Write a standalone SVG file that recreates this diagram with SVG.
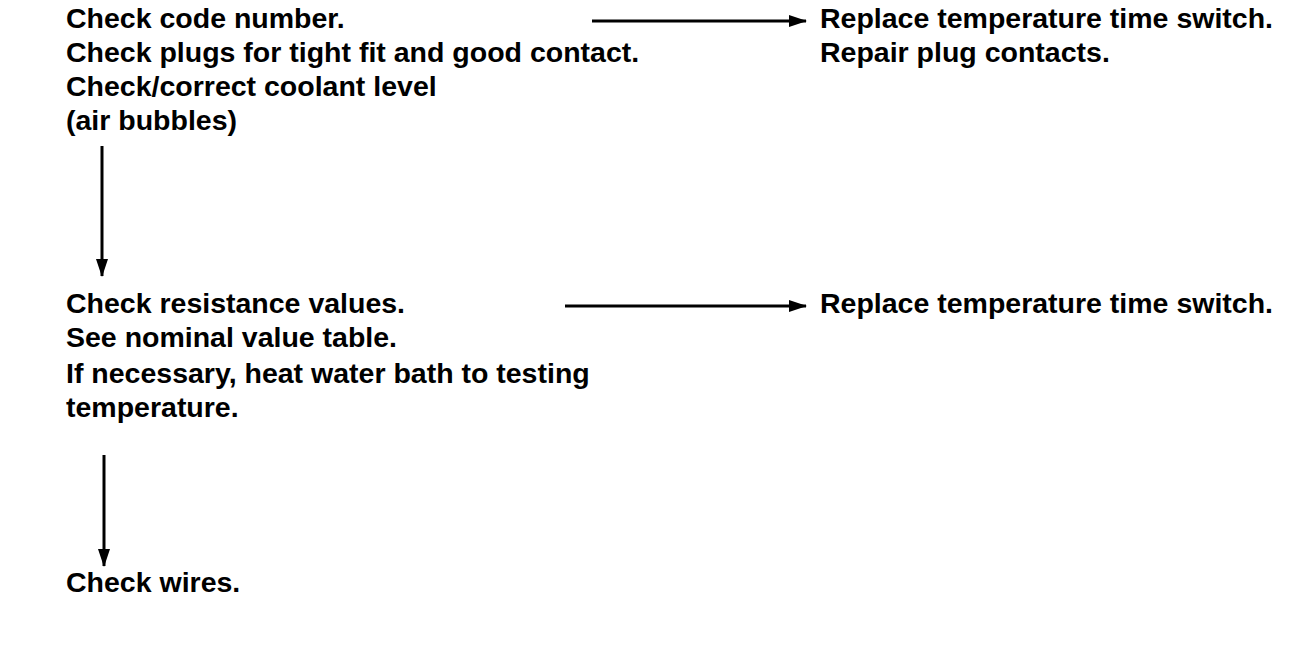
<svg xmlns="http://www.w3.org/2000/svg" width="1312" height="656" viewBox="0 0 1312 656">
<style>
text{font-family:"Liberation Sans",Arial,sans-serif;font-weight:bold;font-size:28.5px;fill:#000}
.c{stroke:#000;stroke-width:3;fill:none}
</style>
<defs>
<marker id="ah" markerWidth="18" markerHeight="12" refX="17" refY="6" orient="auto" markerUnits="userSpaceOnUse">
<path d="M0,0 L18,6 L0,12 Z" fill="#000"/>
</marker>
</defs>
<rect width="1312" height="656" fill="#fff"/>
<g id="n1">
<text x="66" y="28">Check code number.</text>
<text x="66" y="62">Check plugs for tight fit and good contact.</text>
<text x="66" y="96">Check/correct coolant level</text>
<text x="66" y="130">(air bubbles)</text>
</g>
<g id="n2">
<text x="820" y="28">Replace temperature time switch.</text>
<text x="820" y="62">Repair plug contacts.</text>
</g>
<g id="n3">
<text x="66" y="313">Check resistance values.</text>
<text x="66" y="347">See nominal value table.</text>
<text x="66" y="383">If necessary, heat water bath to testing</text>
<text x="66" y="417">temperature.</text>
</g>
<g id="n4">
<text x="820" y="313">Replace temperature time switch.</text>
</g>
<g id="n5">
<text x="66" y="592">Check wires.</text>
</g>
<g id="connectors">
<line class="c" x1="592" y1="21" x2="806" y2="21" marker-end="url(#ah)"/>
<line class="c" x1="565" y1="306" x2="806" y2="306" marker-end="url(#ah)"/>
<line class="c" x1="102" y1="146" x2="102" y2="276" marker-end="url(#ah)"/>
<line class="c" x1="104" y1="455" x2="104" y2="566" marker-end="url(#ah)"/>
</g>
</svg>
